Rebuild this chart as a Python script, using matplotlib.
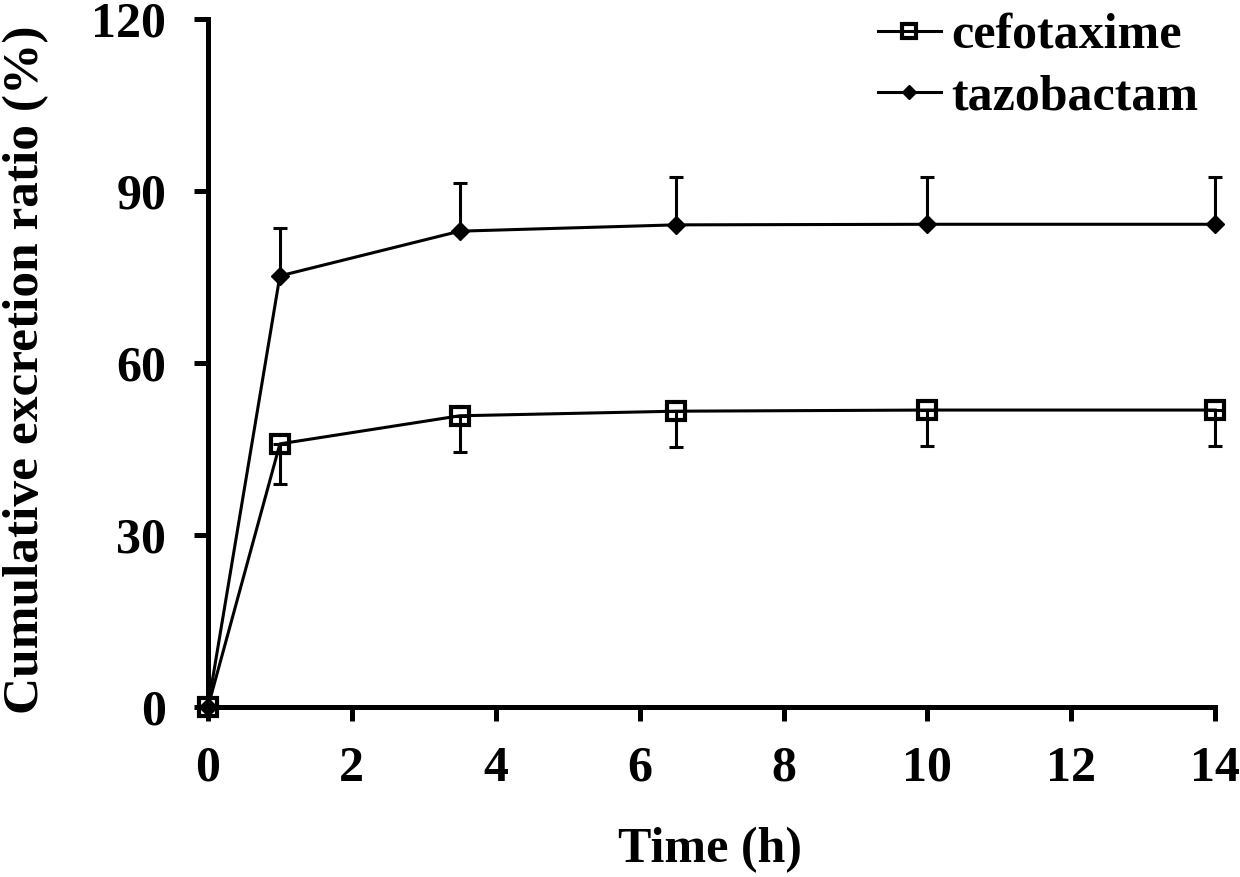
import matplotlib
matplotlib.use("Agg")
import matplotlib.pyplot as plt

plt.rcParams['font.family'] = ['Liberation Serif', 'DejaVu Serif']
plt.rcParams['font.weight'] = 'bold'

time_h = [0, 1, 3.5, 6.5, 10, 14]
cefotaxime = [0, 45.9, 50.8, 51.6, 51.8, 51.8]
cefotaxime_err = [0, 7.0, 6.3, 6.2, 6.3, 6.3]
tazobactam = [0, 75.2, 83.0, 84.1, 84.2, 84.2]
tazobactam_err = [0, 8.4, 8.4, 8.3, 8.3, 8.3]

FS = 36
fig = plt.figure(figsize=(12.4, 8.77), dpi=100)
ax = fig.add_axes([0.1677, 0.1938, 0.8123, 0.7845])

zeros = [0] * len(time_h)
ax.errorbar(time_h, cefotaxime, yerr=[cefotaxime_err, zeros], fmt='none',
            ecolor='black', capsize=5, capthick=2.2, elinewidth=2.2, zorder=2)
ax.errorbar(time_h, tazobactam, yerr=[zeros, tazobactam_err], fmt='none',
            ecolor='black', capsize=5, capthick=2.2, elinewidth=2.2, zorder=2)
ax.plot(time_h, cefotaxime, color='black', lw=2.2, marker='s', ms=13,
        mfc='none', mec='black', mew=3, label='cefotaxime', zorder=3)
ax.plot(time_h, tazobactam, color='black', lw=2.2, marker='D', ms=9,
        mfc='black', mec='black', mew=1, label='tazobactam', zorder=3)

ax.set_xlim(0, 14)
ax.set_ylim(0, 120)
ax.set_xticks(range(0, 15, 2))
ax.set_yticks(range(0, 121, 30))
for s in ['top', 'right']:
    ax.spines[s].set_visible(False)
for s in ['left', 'bottom']:
    ax.spines[s].set_linewidth(3.6)
ax.tick_params(axis='both', direction='out', length=10, width=3.6, labelsize=FS)
ax.tick_params(axis='y', pad=20)
ax.tick_params(axis='x', pad=18)
for lab in ax.get_xticklabels() + ax.get_yticklabels():
    lab.set_fontweight('bold')

ax.set_xlabel('Time (h)', fontsize=FS, fontweight='bold')
ax.set_ylabel('Cumulative excretion ratio (%)', fontsize=37, fontweight='bold')
ax.xaxis.set_label_coords(0.4985, -0.174)
ax.yaxis.set_label_coords(-0.158, 0.49)

handles, labels = ax.get_legend_handles_labels()
leg = ax.legend(handles, labels, loc='upper right', frameon=False, fontsize=FS,
                markerscale=0.75, handlelength=1.26, handletextpad=0.2,
                borderaxespad=0.0, borderpad=0.0, labelspacing=0.3,
                bbox_to_anchor=(1198 / 1240, 1 - 13 / 877),
                bbox_transform=fig.transFigure)
for t in leg.get_texts():
    t.set_fontweight('bold')
for c in ax.get_children():
    c.set_clip_on(False)

fig.savefig('out.png', dpi=100)
